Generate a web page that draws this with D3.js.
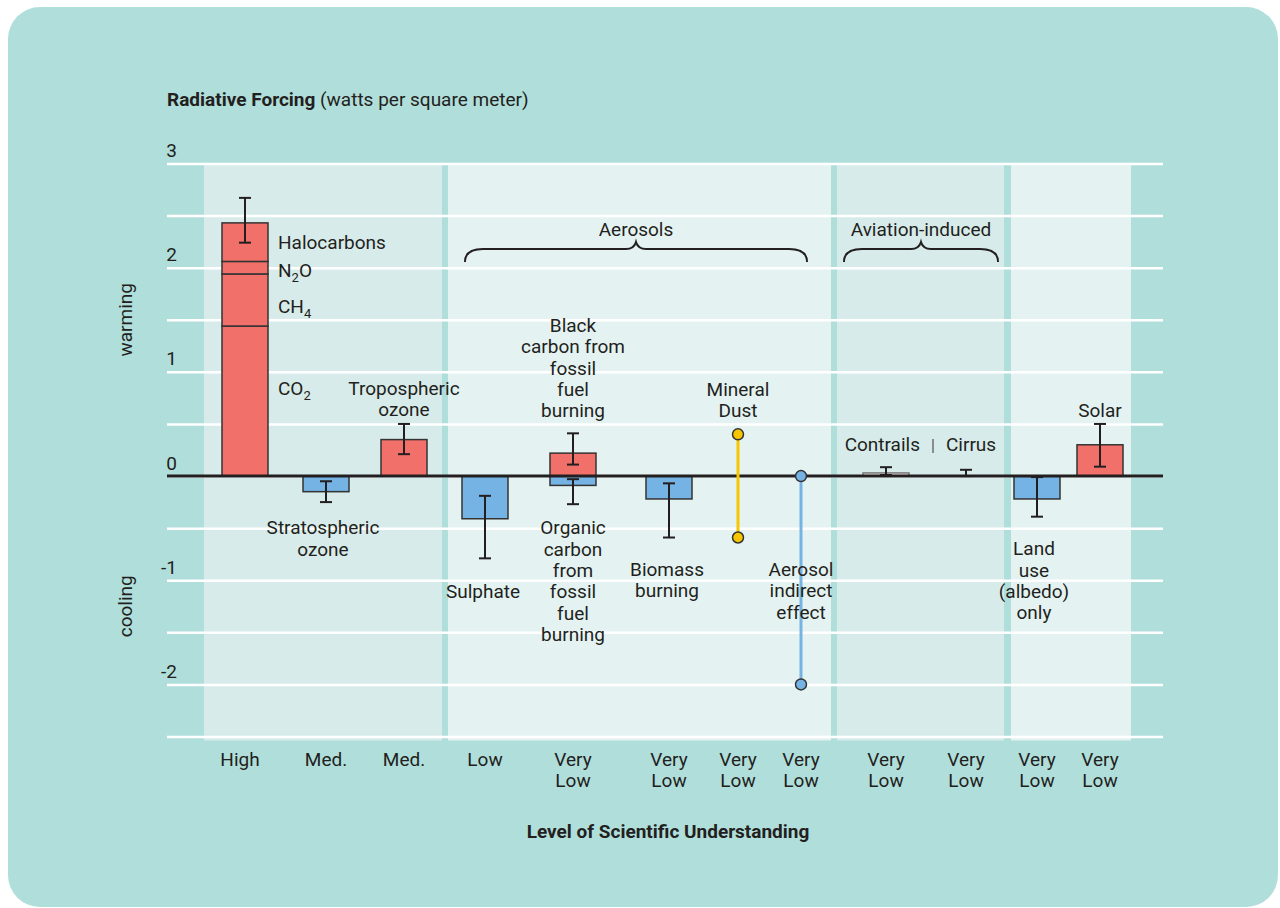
<!DOCTYPE html>
<html>
<head>
<meta charset="utf-8">
<script src="https://cdn.jsdelivr.net/npm/d3@7"></script>
<style>
  body { margin: 0; background: #fff; }
  svg text { font-family: Roboto, "Noto Sans", sans-serif; fill: #231f20; }
</style>
</head>
<body>
<div id="wrapper"></div>
<script>
// ---- data (W/m2) ----
const columns = ["ghg", "stratO3", "tropO3", "sulphate", "fossilCarbon", "biomass", "dust", "indirect", "contrails", "cirrus", "landUse", "solar"];
const understanding = ["High", "Med.", "Med.", "Low", "Very Low", "Very Low", "Very Low", "Very Low", "Very Low", "Very Low", "Very Low", "Very Low"];

// well-mixed greenhouse gases, stacked bottom to top
const ghgGases = ["CO2", "CH4", "N2O", "Halocarbons"];
const ghgForcing = [1.44, 0.50, 0.12, 0.37];
const ghgError = [2.24, 2.67];

// single bars
const barNames = ["Stratospheric ozone", "Tropospheric ozone", "Sulphate", "Black carbon", "Organic carbon", "Biomass burning", "Contrails", "Land use", "Solar"];
const barColumns = ["stratO3", "tropO3", "sulphate", "fossilCarbon", "fossilCarbon", "biomass", "contrails", "landUse", "solar"];
const barForcing = [-0.15, 0.35, -0.41, 0.22, -0.09, -0.22, 0.03, -0.22, 0.30];
const barErrLow = [-0.25, 0.21, -0.79, 0.11, -0.27, -0.59, 0.01, -0.39, 0.09];
const barErrHigh = [-0.05, 0.50, -0.19, 0.41, -0.03, -0.07, 0.085, -0.01, 0.50];

// error bar without a best estimate
const cirrusRange = [0, 0.06];

// ranges with no best estimate
const rangeNames = ["Mineral Dust", "Aerosol indirect effect"];
const rangeColumns = ["dust", "indirect"];
const rangeLow = [-0.59, -2.0];
const rangeHigh = [0.40, 0];

const gridValues = [3, 2.5, 2, 1.5, 1, 0.5, 0, -0.5, -1, -1.5, -2, -2.5];

// ---- layout ----
const width = 1280, height = 908;
const plot = { left: 167, right: 1163 };
const columnX = [245, 326, 404, 485, 573, 669, 738, 801, 886, 966, 1037, 1100];
const panels = [[204, 442], [448, 831], [837, 1004], [1011, 1131]];
const barWidth = 46;
const lineH = 21.3;

const x = d3.scaleOrdinal().domain(columns).range(columnX);
const y = d3.scaleLinear().domain([-2.5, 3]).range([736.5, 163.5]);

const svg = d3.select("#wrapper").append("svg")
  .attr("width", width)
  .attr("height", height);

svg.append("rect")
  .attr("x", 8).attr("y", 7)
  .attr("width", 1270).attr("height", 900)
  .attr("rx", 32)
  .attr("fill", "#b0dedb");

// panels
svg.append("g").selectAll("rect")
  .data(panels)
  .join("rect")
  .attr("x", d => d[0])
  .attr("width", d => d[1] - d[0])
  .attr("y", y(3))
  .attr("height", y(-2.5) - y(3) + 4)
  .attr("fill", (d, i) => i % 2 ? "#e4f3f2" : "#d7ecea");

// grid + y labels
const yAxis = d3.axisLeft(y)
  .tickValues(gridValues)
  .tickSize(-(plot.right - plot.left))
  .tickFormat(d => Number.isInteger(d) ? d : "");
const yAxisG = svg.append("g")
  .attr("transform", `translate(${plot.left},0)`)
  .call(yAxis);
yAxisG.select(".domain").remove();
yAxisG.selectAll("line")
  .attr("stroke", "#fff")
  .attr("stroke-width", 2.5);
yAxisG.selectAll("text")
  .attr("x", 10)
  .attr("dy", -7)
  .attr("text-anchor", "end")
  .attr("font-size", 19)
  .style("font-family", "Roboto, sans-serif")
  .attr("fill", "#231f20");

svg.append("text")
  .attr("transform", `translate(132,${y(1.5)}) rotate(-90)`)
  .attr("text-anchor", "middle")
  .attr("font-size", 19)
  .text("warming");
svg.append("text")
  .attr("transform", `translate(132,${y(-1.25)}) rotate(-90)`)
  .attr("text-anchor", "middle")
  .attr("font-size", 19)
  .text("cooling");

// titles
const title = svg.append("text")
  .attr("x", plot.left)
  .attr("y", 106)
  .attr("font-size", 19);
title.append("tspan").attr("font-weight", "bold").text("Radiative Forcing");
title.append("tspan").text(" (watts per square meter)");

svg.append("text")
  .attr("x", 668)
  .attr("y", 838)
  .attr("text-anchor", "middle")
  .attr("font-size", 19)
  .attr("font-weight", "bold")
  .text("Level of Scientific Understanding");

const red = "#f2706a", blue = "#74b3e3";
const barFill = v => v < 0 ? blue : (v < 0.05 ? "#e6e3df" : red);

// greenhouse gas stack
const stack = ghgForcing.map((v, i) => ({
  gas: ghgGases[i],
  y0: d3.sum(ghgForcing.slice(0, i)),
  y1: d3.sum(ghgForcing.slice(0, i + 1))
}));
svg.append("g").selectAll("rect")
  .data(stack)
  .join("rect")
  .attr("x", x("ghg") - barWidth / 2)
  .attr("width", barWidth)
  .attr("y", d => y(d.y1))
  .attr("height", d => y(d.y0) - y(d.y1))
  .attr("fill", red)
  .attr("stroke", "#333")
  .attr("stroke-width", 1.5);

// bars
const bars = barNames.map((name, i) => ({
  name, col: barColumns[i], v: barForcing[i], lo: barErrLow[i], hi: barErrHigh[i]
}));
svg.append("g").selectAll("rect")
  .data(bars)
  .join("rect")
  .attr("x", d => x(d.col) - barWidth / 2)
  .attr("width", barWidth)
  .attr("y", d => y(Math.max(0, d.v)))
  .attr("height", d => Math.abs(y(d.v) - y(0)))
  .attr("fill", d => barFill(d.v))
  .attr("stroke", d => d.v > 0 && d.v < 0.05 ? "#777" : "#333")
  .attr("stroke-width", 1.5);

// zero line
svg.append("line")
  .attr("x1", plot.left).attr("x2", plot.right)
  .attr("y1", y(0)).attr("y2", y(0))
  .attr("stroke", "#231f20")
  .attr("stroke-width", 3);

// error bars
const errors = bars.map(d => ({ col: d.col, lo: d.lo, hi: d.hi }))
  .concat([{ col: "ghg", lo: ghgError[0], hi: ghgError[1] },
           { col: "cirrus", lo: cirrusRange[0], hi: cirrusRange[1] }]);
const errG = svg.append("g").attr("stroke", "#231f20").attr("stroke-width", 2);
errG.selectAll(".stem")
  .data(errors)
  .join("line")
  .attr("x1", d => x(d.col)).attr("x2", d => x(d.col))
  .attr("y1", d => y(d.lo)).attr("y2", d => y(d.hi));
errG.selectAll(".cap")
  .data(errors.flatMap(d => [{ col: d.col, v: d.lo }, { col: d.col, v: d.hi }]))
  .join("line")
  .attr("x1", d => x(d.col) - 6).attr("x2", d => x(d.col) + 6)
  .attr("y1", d => y(d.v)).attr("y2", d => y(d.v));

// ranges (dust, indirect)
const rangeColor = ["#f7c600", blue];
const ranges = rangeNames.map((name, i) => ({
  name, col: rangeColumns[i], lo: rangeLow[i], hi: rangeHigh[i], color: rangeColor[i]
}));
svg.append("g").selectAll("line")
  .data(ranges)
  .join("line")
  .attr("x1", d => x(d.col)).attr("x2", d => x(d.col))
  .attr("y1", d => y(d.lo)).attr("y2", d => y(d.hi))
  .attr("stroke", d => d.color)
  .attr("stroke-width", 3);
svg.append("g").selectAll("circle")
  .data(ranges.flatMap(d => [{ d, v: d.lo }, { d, v: d.hi }]))
  .join("circle")
  .attr("cx", p => x(p.d.col))
  .attr("cy", p => y(p.v))
  .attr("r", 5.5)
  .attr("fill", p => p.d.color)
  .attr("stroke", "#333")
  .attr("stroke-width", 1.5);

// braces
function brace(x0, x1, yTop) {
  const m = (x0 + x1) / 2, r = 9;
  return `M${x0},${yTop + 13} Q${x0},${yTop} ${x0 + r * 2},${yTop} L${m - 10},${yTop} Q${m - 2},${yTop} ${m},${yTop - 7}`
    + ` Q${m + 2},${yTop} ${m + 10},${yTop} L${x1 - r * 2},${yTop} Q${x1},${yTop} ${x1},${yTop + 13}`;
}
const braceSpans = [
  { label: "Aerosols", x0: panels[1][0] + 17, x1: panels[1][1] - 24 },
  { label: "Aviation-induced", x0: panels[2][0] + 7, x1: panels[2][1] - 6 }
];
const braceY = y(2.18);
svg.append("g").selectAll("path")
  .data(braceSpans)
  .join("path")
  .attr("d", d => brace(d.x0, d.x1, braceY))
  .attr("fill", "none")
  .attr("stroke", "#231f20")
  .attr("stroke-width", 2);
svg.append("g").selectAll("text")
  .data(braceSpans)
  .join("text")
  .attr("x", d => (d.x0 + d.x1) / 2)
  .attr("y", braceY - 13)
  .attr("text-anchor", "middle")
  .attr("font-size", 19)
  .text(d => d.label);

// annotations: column, dx, first baseline (W/m2), anchor, lines
const notes = [
  { col: "ghg", dx: 33, at: 2.18, anchor: "start", lines: ["Halocarbons"] },
  { col: "ghg", dx: 33, at: 1.91, anchor: "start", lines: [["N", "2", "O"]] },
  { col: "ghg", dx: 33, at: 1.565, anchor: "start", lines: [["CH", "4", ""]] },
  { col: "ghg", dx: 33, at: 0.78, anchor: "start", lines: [["CO", "2", ""]] },
  { col: "tropO3", dx: 0, at: 0.78, anchor: "middle", lines: ["Tropospheric", "ozone"] },
  { col: "stratO3", dx: -3, at: -0.56, anchor: "middle", lines: ["Stratospheric", "ozone"] },
  { col: "fossilCarbon", dx: 0, at: 1.383, anchor: "middle", lines: ["Black", "carbon from", "fossil", "fuel", "burning"] },
  { col: "fossilCarbon", dx: 0, at: -0.56, anchor: "middle", lines: ["Organic", "carbon", "from", "fossil", "fuel", "burning"] },
  { col: "dust", dx: 0, at: 0.77, anchor: "middle", lines: ["Mineral", "Dust"] },
  { col: "sulphate", dx: -2, at: -1.17, anchor: "middle", lines: ["Sulphate"] },
  { col: "biomass", dx: -2, at: -0.96, anchor: "middle", lines: ["Biomass", "burning"] },
  { col: "indirect", dx: 0, at: -0.96, anchor: "middle", lines: ["Aerosol", "indirect", "effect"] },
  { col: "landUse", dx: -3, at: -0.76, anchor: "middle", lines: ["Land", "use", "(albedo)", "only"] },
  { col: "contrails", dx: 34, at: 0.244, anchor: "end", lines: ["Contrails"] },
  { col: "contrails", dx: 47, at: 0.244, anchor: "middle", lines: ["|"] },
  { col: "cirrus", dx: -20, at: 0.244, anchor: "start", lines: ["Cirrus"] },
  { col: "solar", dx: 0, at: 0.57, anchor: "middle", lines: ["Solar"] }
];
const noteG = svg.append("g").attr("font-size", 19);
notes.forEach(n => {
  const t = noteG.append("text")
    .attr("x", x(n.col) + n.dx)
    .attr("y", y(n.at))
    .attr("text-anchor", n.anchor);
  n.lines.forEach((line, i) => {
    if (Array.isArray(line)) {
      t.append("tspan").attr("x", x(n.col) + n.dx).attr("dy", i ? lineH : 0).text(line[0]);
      t.append("tspan").attr("font-size", 13).attr("dy", 5).text(line[1]);
      t.append("tspan").attr("dy", -5).text(line[2]);
    } else {
      t.append("tspan")
        .attr("x", x(n.col) + n.dx)
        .attr("dy", i ? lineH : 0)
        .attr("fill", line === "|" ? "#555" : null)
        .attr("font-size", line === "|" ? 16 : null)
        .text(line);
    }
  });
});

// level of scientific understanding
const lsu = svg.append("g").attr("font-size", 19).attr("text-anchor", "middle");
columns.forEach((c, i) => {
  const t = lsu.append("text").attr("y", y(-2.5) + 29);
  understanding[i].split(" ").forEach((w, j) => {
    t.append("tspan").attr("x", x(c) - (i === 0 ? 5 : 0)).attr("dy", j ? 21 : 0).text(w);
  });
});
</script>
</body>
</html>
